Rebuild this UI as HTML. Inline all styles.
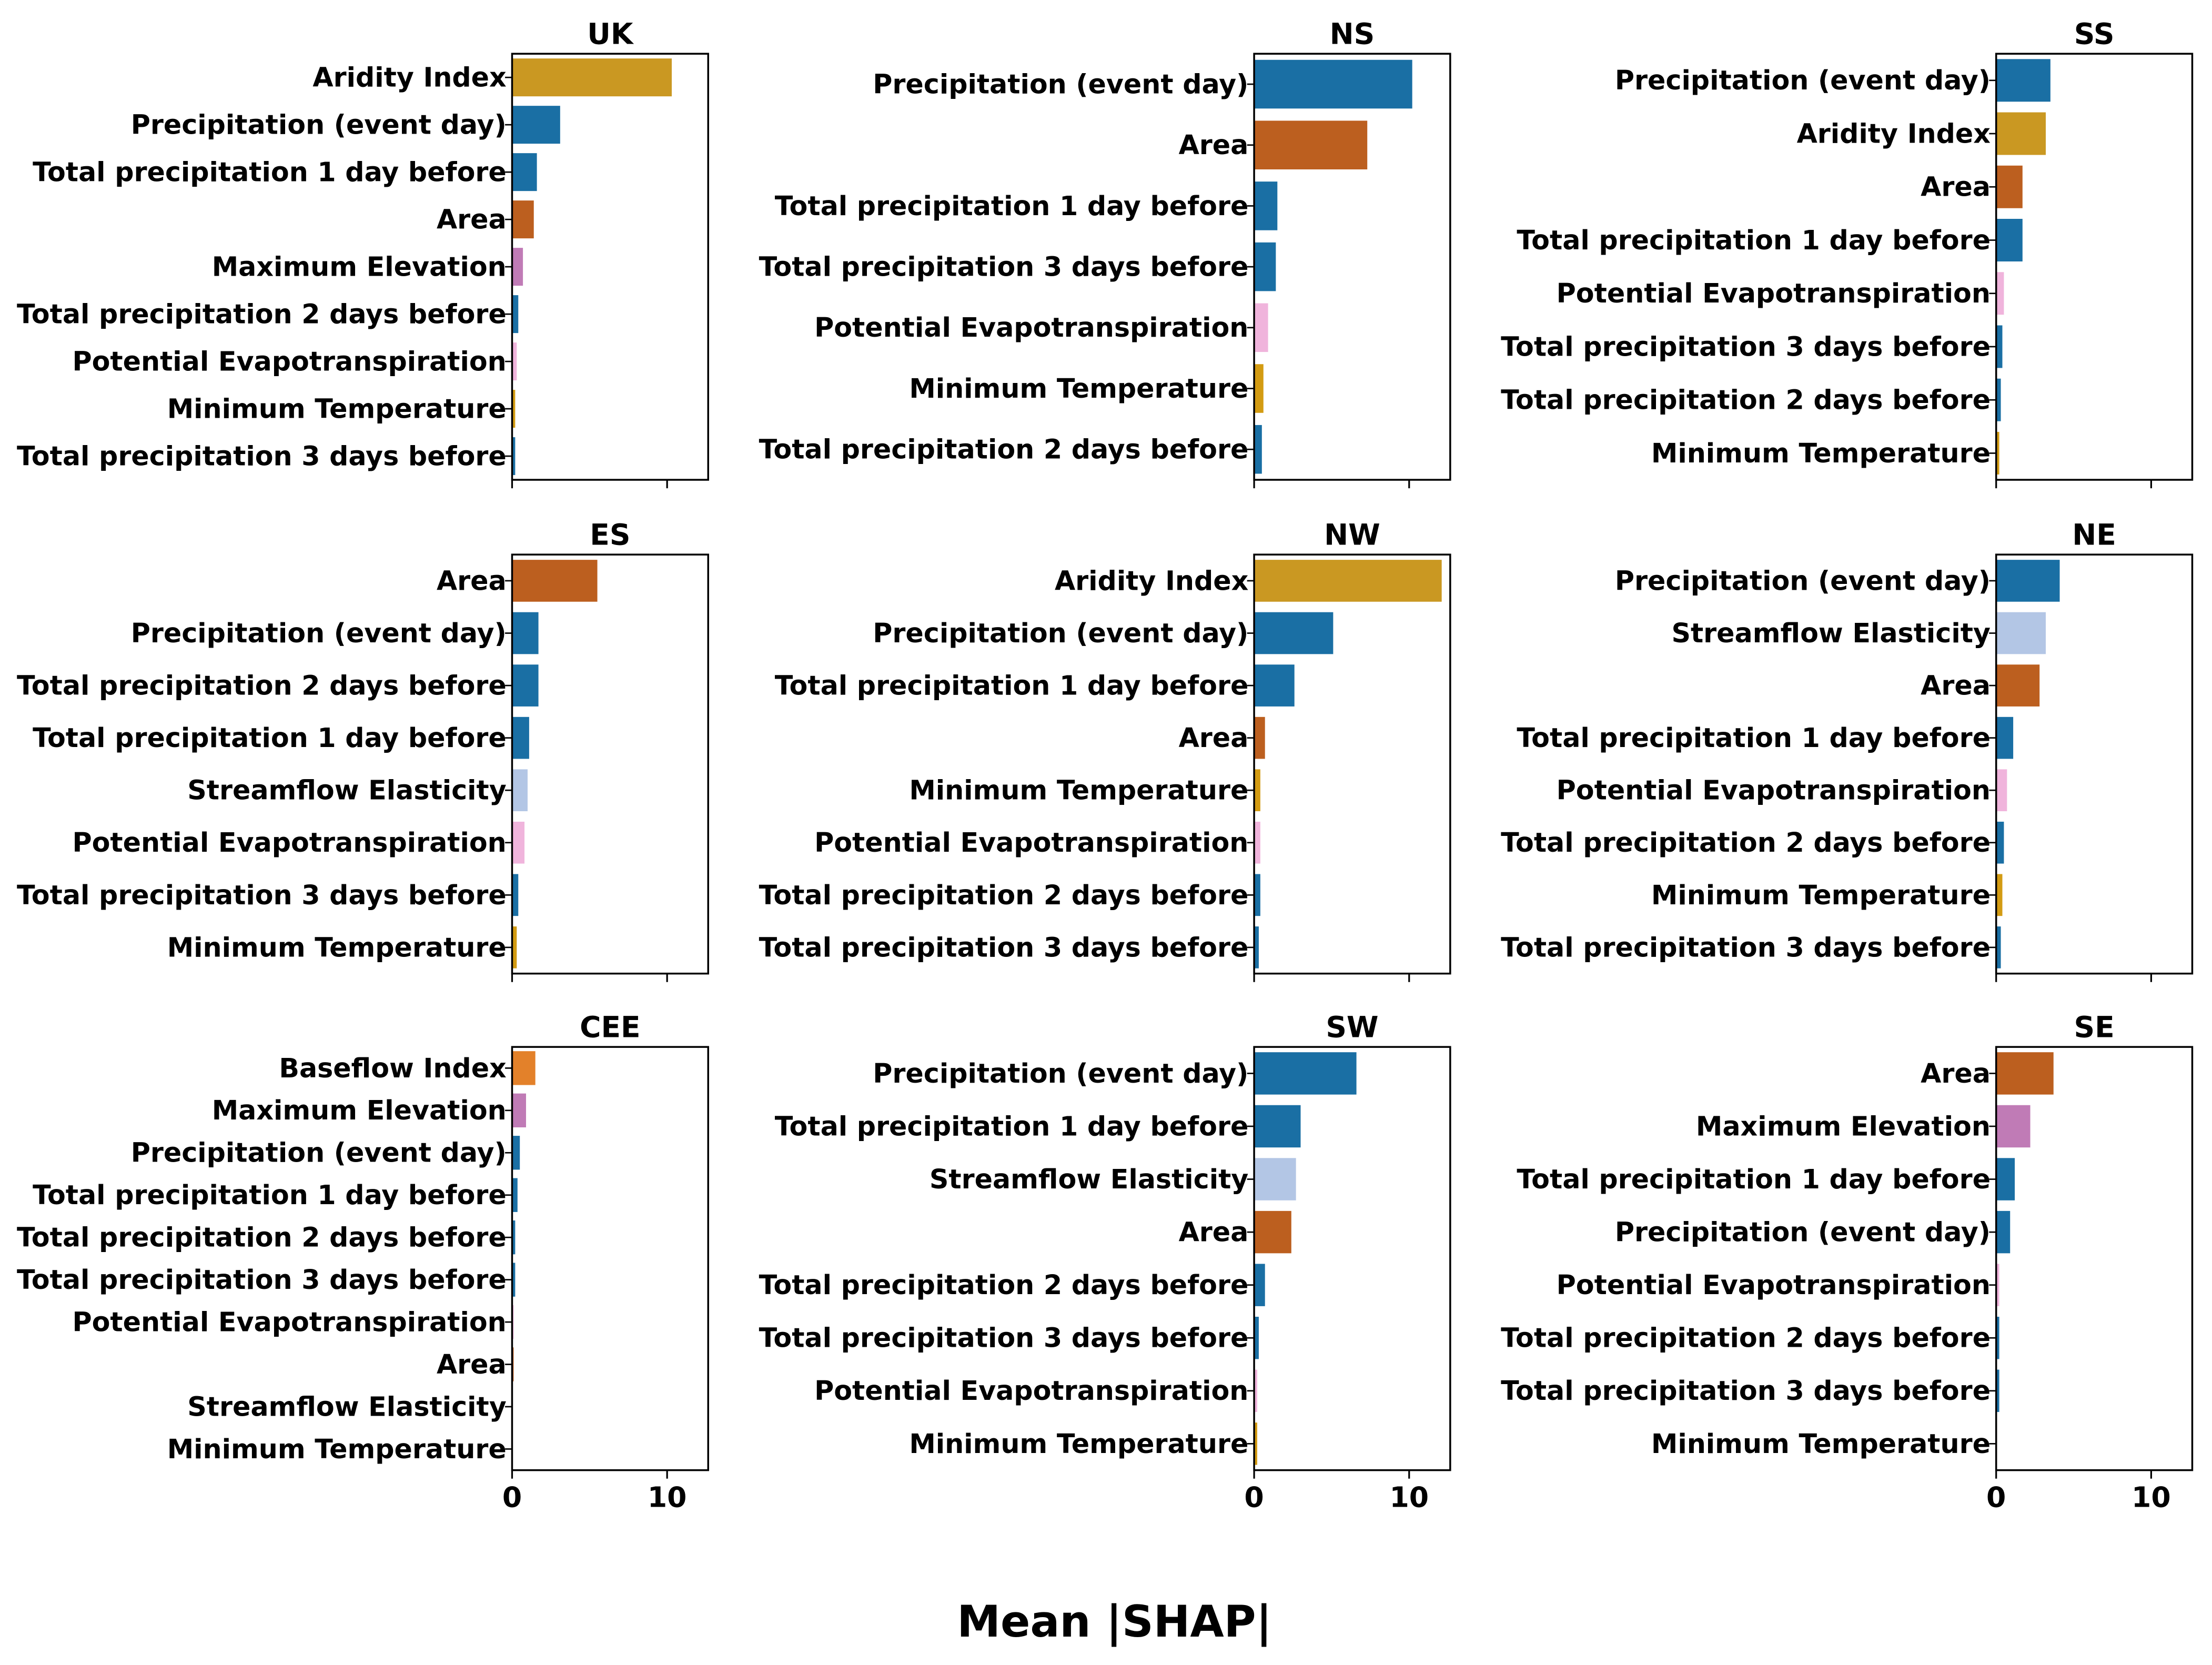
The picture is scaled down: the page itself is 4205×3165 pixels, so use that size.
<!DOCTYPE html>
<html><head><meta charset="utf-8">
<style>
html,body{margin:0;padding:0;background:#fff;}
svg{display:block;}
text{font-family:"DejaVu Sans","Liberation Sans",sans-serif;font-weight:bold;fill:#000;}
</style></head>
<body>
<svg id="chart" width="4205" height="3165" viewBox="0 0 1568 1180" xmlns="http://www.w3.org/2000/svg">
<text x="790" y="1160" font-size="31" text-anchor="middle">Mean |SHAP|</text>
</svg>
<script>
const regions = ["UK","NS","SS","ES","NW","NE","CEE","SW","SE"];
const featUK = ["Aridity Index","Precipitation (event day)","Total precipitation 1 day before","Area","Maximum Elevation","Total precipitation 2 days before","Potential Evapotranspiration","Minimum Temperature","Total precipitation 3 days before"];
const valUK = [10.3,3.1,1.6,1.4,0.7,0.4,0.3,0.2,0.2];
const featNS = ["Precipitation (event day)","Area","Total precipitation 1 day before","Total precipitation 3 days before","Potential Evapotranspiration","Minimum Temperature","Total precipitation 2 days before"];
const valNS = [10.2,7.3,1.5,1.4,0.9,0.6,0.5];
const featSS = ["Precipitation (event day)","Aridity Index","Area","Total precipitation 1 day before","Potential Evapotranspiration","Total precipitation 3 days before","Total precipitation 2 days before","Minimum Temperature"];
const valSS = [3.5,3.2,1.7,1.7,0.5,0.4,0.3,0.2];
const featES = ["Area","Precipitation (event day)","Total precipitation 2 days before","Total precipitation 1 day before","Streamflow Elasticity","Potential Evapotranspiration","Total precipitation 3 days before","Minimum Temperature"];
const valES = [5.5,1.7,1.7,1.1,1.0,0.8,0.4,0.3];
const featNW = ["Aridity Index","Precipitation (event day)","Total precipitation 1 day before","Area","Minimum Temperature","Potential Evapotranspiration","Total precipitation 2 days before","Total precipitation 3 days before"];
const valNW = [12.1,5.1,2.6,0.7,0.4,0.4,0.4,0.3];
const featNE = ["Precipitation (event day)","Streamflow Elasticity","Area","Total precipitation 1 day before","Potential Evapotranspiration","Total precipitation 2 days before","Minimum Temperature","Total precipitation 3 days before"];
const valNE = [4.1,3.2,2.8,1.1,0.7,0.5,0.4,0.3];
const featCEE = ["Baseflow Index","Maximum Elevation","Precipitation (event day)","Total precipitation 1 day before","Total precipitation 2 days before","Total precipitation 3 days before","Potential Evapotranspiration","Area","Streamflow Elasticity","Minimum Temperature"];
const valCEE = [1.5,0.9,0.5,0.35,0.2,0.2,0.1,0.1,0.05,0.05];
const featSW = ["Precipitation (event day)","Total precipitation 1 day before","Streamflow Elasticity","Area","Total precipitation 2 days before","Total precipitation 3 days before","Potential Evapotranspiration","Minimum Temperature"];
const valSW = [6.6,3.0,2.7,2.4,0.7,0.3,0.2,0.2];
const featSE = ["Area","Maximum Elevation","Total precipitation 1 day before","Precipitation (event day)","Potential Evapotranspiration","Total precipitation 2 days before","Total precipitation 3 days before","Minimum Temperature"];
const valSE = [3.7,2.2,1.2,0.9,0.2,0.2,0.2,0.05];
const xTicks = [0,10];

const feats=[featUK,featNS,featSS,featES,featNW,featNE,featCEE,featSW,featSE];
const vals=[valUK,valNS,valSS,valES,valNW,valNE,valCEE,valSW,valSE];
const colorOf=f=>{
  if(f.startsWith("Precip")||f.startsWith("Total")) return "#1a6fa4";
  if(f==="Aridity Index") return "#ca9822";
  if(f==="Area") return "#bc5f1f";
  if(f==="Maximum Elevation") return "#c07bb6";
  if(f==="Potential Evapotranspiration") return "#f0b4dc";
  if(f==="Minimum Temperature") return "#d39b12";
  if(f==="Streamflow Elasticity") return "#b3c6e5";
  if(f==="Baseflow Index") return "#e3812a";
  return "#888";
};
const NS="http://www.w3.org/2000/svg";
const svg=document.getElementById("chart");
const colX=[363,889,1415], rowY=[[38,340],[393,690],[742,1042]];
const W=139, xmax=12.65;
function mk(tag,attrs,parent){const e=document.createElementNS(NS,tag);for(const k in attrs)e.setAttribute(k,attrs[k]);(parent||svg).appendChild(e);return e;}
regions.forEach((r,i)=>{
  const x0=colX[i%3], y0=rowY[Math.floor(i/3)][0], y1=rowY[Math.floor(i/3)][1];
  const g=mk("g",{});
  
  
  const sx=v=>x0+v/xmax*W;
  const n=feats[i].length, band=(y1-y0)/n;
  feats[i].forEach((f,j)=>{
    const cy=y0+band*(j+0.5);
    const b=mk("rect",{x:x0,y:cy-band*0.4,width:Math.max(0,sx(vals[i][j])-x0),height:band*0.8,fill:colorOf(f)},g);
    
    
    mk("line",{x1:x0-5,x2:x0,y1:cy,y2:cy,stroke:"#000","stroke-width":1},g);
    const t=mk("text",{x:x0-4,y:cy+6.5,"font-size":"18.9","text-anchor":"end"},g);
    t.textContent=f;
    
    
  });
  const fr=mk("rect",{x:x0,y:y0,width:W,height:y1-y0,fill:"none",stroke:"#000","stroke-width":1.3},g);
  
  
  xTicks.forEach(v=>{
    mk("line",{x1:sx(v),x2:sx(v),y1:y1,y2:y1+6,stroke:"#000","stroke-width":1.2},g);
    if(Math.floor(i/3)===2){
      const t=mk("text",{x:sx(v),y:y1+26,"font-size":"20","text-anchor":"middle"},g);
      t.textContent=String(v);
      
      
    }
  });
  const tt=mk("text",{x:x0+W/2,y:y0-7,"font-size":"20.5","text-anchor":"middle"},g);
  tt.textContent=r;
  
  
});
</script>
</body></html>
